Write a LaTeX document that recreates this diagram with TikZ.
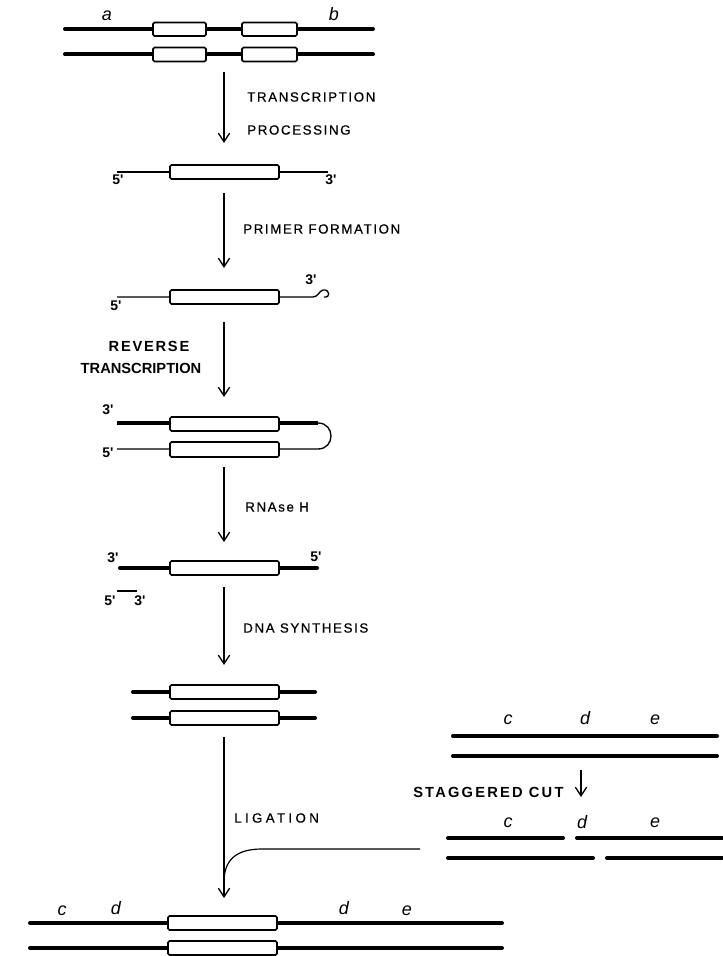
\documentclass[tikz,border=0pt]{standalone}
\usepackage{fontspec}
\setmainfont{Liberation Sans}
\newfontfamily\labfont{Liberation Sans}[LetterSpace=12,FakeBold=0.6]
\newfontfamily\blabfont{Liberation Sans Bold}[LetterSpace=0]
\usetikzlibrary{arrows.meta}
\tikzset{
  dnathick/.style={line width=3pt, line cap=round},
  rnathin/.style={line width=1pt},
  gene/.style={draw, line width=1.2pt, fill=white, rounded corners=1.2pt},
  arr/.style={-{Straight Barb[length=6.5pt,width=8.5pt,line width=1pt]}, line width=0.9pt},
  lab/.style={font=\labfont\fontsize{10}{11}\selectfont, anchor=west, inner sep=0pt},
  blab/.style={font=\blabfont\fontsize{11}{12}\selectfont, anchor=west, inner sep=0pt},
  ital/.style={font=\fontsize{13.5}{14}\selectfont\itshape, inner sep=0pt},
  prm/.style={font=\bfseries\fontsize{10.5}{11}\selectfont, inner sep=0pt}
}
\newcommand{\pr}{\textquotesingle}
\begin{document}
\begin{tikzpicture}[x=0.75pt,y=-0.75pt]
\useasboundingbox (0,0) rectangle (722,956);

% ---------- row 1: genomic DNA ----------
\draw[dnathick] (65,29) -- (373,29);
\draw[dnathick] (65,54.5) -- (373,54.5);
\draw[gene] (153,22.5) rectangle (206,36);
\draw[gene] (242,22.5) rectangle (297,36);
\draw[gene] (153,47.5) rectangle (206,61.5);
\draw[gene] (242,47.5) rectangle (297,61.5);
\node[ital] (la) at (107,16) {a};
\node[ital] (lb) at (334,14) {b};

\coordinate (a1s) at (224,72);
\coordinate (a1e) at (224,143);
\draw[arr] (a1s) -- (a1e);
\node[lab] (t1) at (247,97) {TRANSCRIPTION};
\node[lab] (t2) at (247,130) {PROCESSING};

% ---------- row 2: mRNA ----------
\draw[rnathin] (117,172) -- (328,172);
\draw[gene] (170,165) rectangle (279,179);
\node[prm] (r2a) at (118,180) {5\pr};
\node[prm] (r2b) at (331,180) {3\pr};

\coordinate (a2s) at (224,193);
\coordinate (a2e) at (224,268);
\draw[arr] (a2s) -- (a2e);
\node[lab] (t3) at (243,229) {PRIMER FORMATION};

% ---------- row 3: primer ----------
\draw[rnathin] (117,297) -- (313,297)
  .. controls (318,297) and (319,291) .. (323,290)
  .. controls (330,289) and (331,298) .. (324,297);
\draw[gene] (170,290) rectangle (279,304);
\node[prm] (r3a) at (116,306) {5\pr};
\node[prm] (r3b) at (311,280) {3\pr};

\coordinate (a3s) at (224,322);
\coordinate (a3e) at (224,397);
\draw[arr] (a3s) -- (a3e);
\node[blab, anchor=center] (t4) at (149,346) {\addfontfeature{LetterSpace=12}REVERSE};
\node[blab, anchor=center] (t5) at (141,368) {TRANSCRIPTION};

% ---------- row 4: hairpin ----------
\draw[dnathick, line cap=butt] (117,423) -- (318,423);
\draw[rnathin] (117,449) -- (318,449) .. controls (335.3,449) and (335.3,423) .. (318,423);
\draw[gene] (170,417) rectangle (279,431);
\draw[gene] (170,442) rectangle (279,457);
\node[prm] (r4a) at (108,410) {3\pr};
\node[prm] (r4b) at (108,453) {5\pr};

\coordinate (a4s) at (224,467);
\coordinate (a4e) at (224,542);
\draw[arr] (a4s) -- (a4e);
\node[lab] (t6) at (245,507) {RNAse H};

% ---------- row 5: single strand ----------
\draw[dnathick] (120,568) -- (317,568);
\draw[gene] (170,561) rectangle (279,575);
\node[prm] (r5a) at (113,558) {3\pr};
\node[prm] (r5b) at (316,557) {5\pr};
\draw[rnathin] (117,591) -- (137,591);
\node[prm] (r5c) at (110,601) {5\pr};
\node[prm] (r5d) at (140,601) {3\pr};

\coordinate (a5s) at (224,587);
\coordinate (a5e) at (224,665);
\draw[arr] (a5s) -- (a5e);
\node[lab] (t7) at (243,628) {DNA SYNTHESIS};

% ---------- row 6: cDNA ----------
\draw[dnathick] (133,692) -- (315,692);
\draw[dnathick] (133,718) -- (315,718);
\draw[gene] (170,685) rectangle (279,699);
\draw[gene] (170,711) rectangle (279,725);

\coordinate (a6s) at (224,737);
\coordinate (a6e) at (224,898);
\draw[arr] (a6s) -- (a6e);
\node[lab] (t8) at (234,818) {\addfontfeature{LetterSpace=25}LIGATION};

% ligation feed line
\coordinate (ls) at (420,849);
\coordinate (lm) at (262,849);
\coordinate (lj) at (224,882);
\draw[line width=0.9pt] (ls) -- (lm) .. controls (236,849) and (224,860) .. (lj);

% ---------- right: vector ----------
\draw[dnathick] (453,736) -- (717,736);
\draw[dnathick] (453,756) -- (717,756);
\node[ital] (vc) at (508,720) {c};
\node[ital] (vd) at (585,718) {d};
\node[ital] (ve) at (655,720) {e};

\coordinate (sc1) at (581,770);
\coordinate (sc2) at (581,797);
\draw[arr] (sc1) -- (sc2);
\node[blab] (t9) at (413,792) {\addfontfeature{LetterSpace=15}STAGGERED CUT};

\draw[dnathick] (448,838) -- (563,838);
\draw[dnathick] (577,838) -- (722,838);
\draw[dnathick] (448,858) -- (593,858);
\draw[dnathick] (607,858) -- (722,858);
\node[ital] (wc) at (508,823) {c};
\node[ital] (wd) at (582,822) {d};
\node[ital] (we) at (655,823) {e};

% ---------- bottom: recombinant ----------
\draw[dnathick] (30,923) -- (502,923);
\draw[dnathick] (30,948) -- (502,948);
\draw[gene] (168,916) rectangle (277,930);
\draw[gene] (168,941) rectangle (277,955);
\node[ital] (bc) at (62,911) {c};
\node[ital] (bd) at (116,908) {d};
\node[ital] (bd2) at (344,908) {d};
\node[ital] (be) at (407,911) {e};
\end{tikzpicture}
\end{document}
